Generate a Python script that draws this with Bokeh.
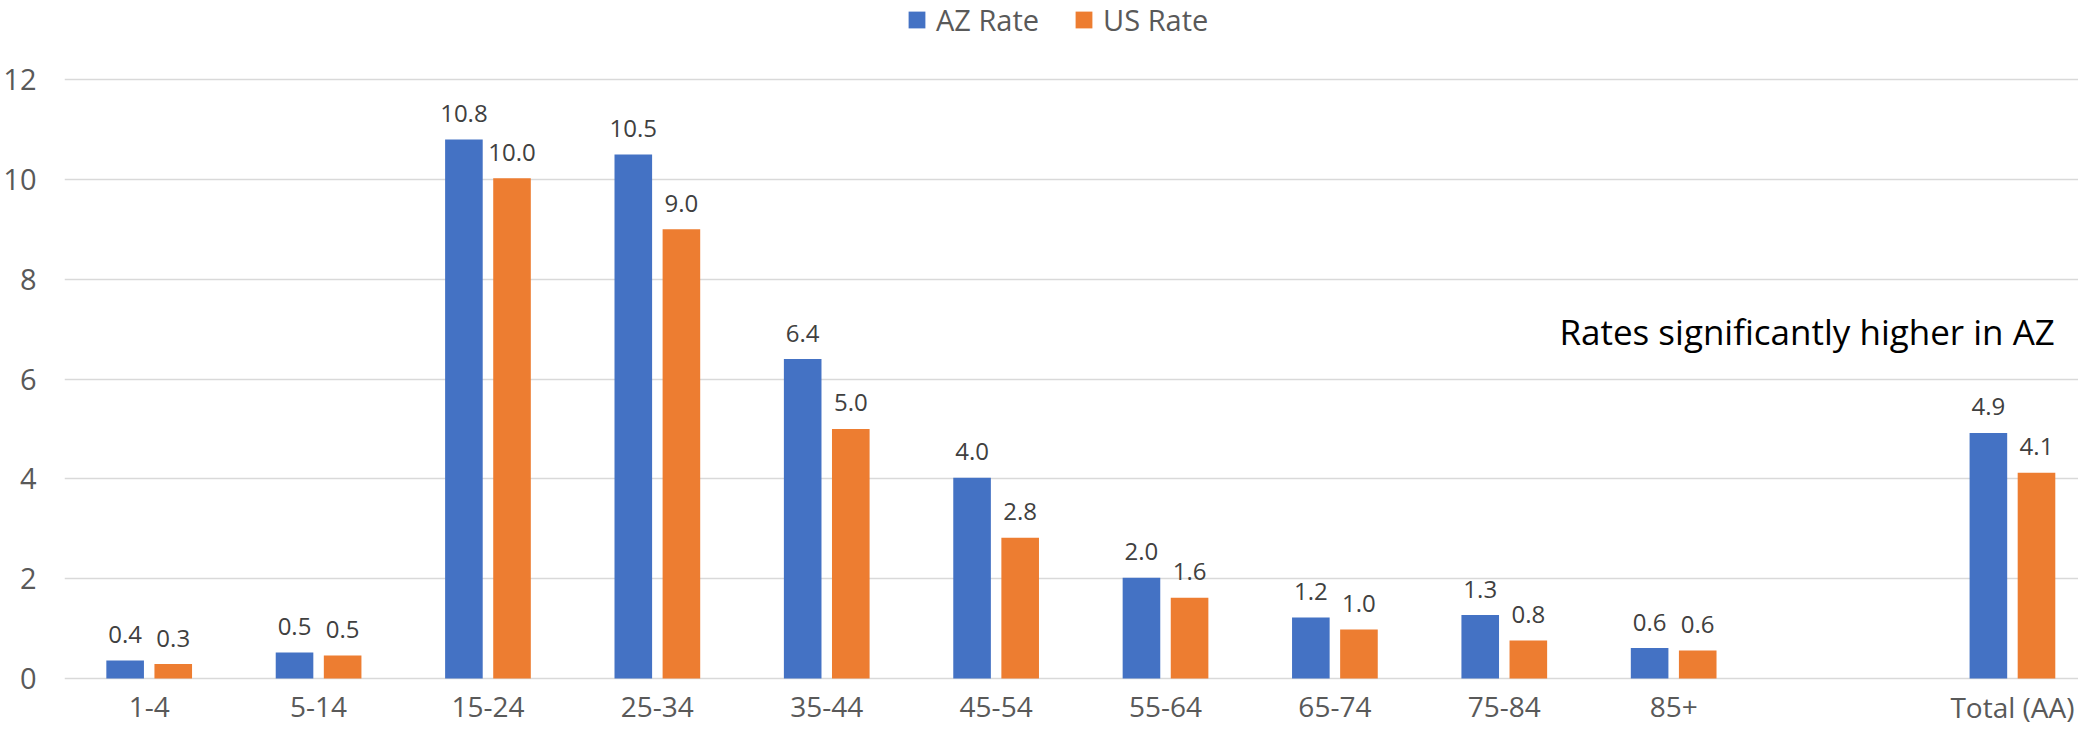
import numpy as np
from bokeh.plotting import figure
from bokeh.models import ColumnDataSource, FixedTicker, Legend, LegendItem, Label, Range1d
from bokeh.core.properties import value
from bokeh.embed import file_html
from bokeh.resources import INLINE

# ---- data ----
categories = ["1-4", "5-14", "15-24", "25-34", "35-44", "45-54", "55-64",
              "65-74", "75-84", "85+", "", "Total (AA)"]
az_rate = [0.36, 0.52, 10.8, 10.5, 6.4, 4.02, 2.02, 1.22, 1.27, 0.61, None, 4.92]
us_rate = [0.29, 0.46, 10.02, 9.0, 5.0, 2.82, 1.62, 0.98, 0.76, 0.56, None, 4.12]
y_ticks = [0, 2, 4, 6, 8, 10, 12]
series_names = ["AZ Rate", "US Rate"]
series_colors = ["#4472C4", "#ED7D31"]
note_text = "Rates significantly higher in AZ"

FONT = "Open Sans"
W, H = 2078, 727
LEFT = 56
top_px, zero_px = 79, 678            # pixel rows of the 12 and 0 grid lines
px_per_unit = (zero_px - top_px) / 12.0
y_min = -(H - zero_px) / px_per_unit
y_max = zero_px / px_per_unit

p = figure(width=W, height=H, output_backend="svg", toolbar_location=None,
           x_range=Range1d(-0.5, len(categories) - 0.61), y_range=Range1d(y_min, y_max),
           min_border_left=LEFT, min_border_right=0, min_border_top=0,
           min_border_bottom=0)
p.outline_line_color = None
p.background_fill_color = "white"
p.border_fill_color = "white"

p.xgrid.grid_line_color = None
p.ygrid.grid_line_color = "#d9d9d9"
p.ygrid.grid_line_width = 1.6
p.ygrid.ticker = FixedTicker(ticks=y_ticks)

# y axis
ya = p.yaxis[0]
ya.ticker = FixedTicker(ticks=y_ticks)
ya.axis_line_color = None
ya.major_tick_line_color = None
ya.minor_tick_line_color = None
ya.major_label_text_font = FONT
ya.major_label_text_font_size = "29px"
ya.major_label_text_color = "#595959"
ya.major_label_standoff = 22

# category labels drawn just under the zero line
p.xaxis.visible = False
tick_idx = [i for i, c in enumerate(categories) if c]
cat_src = ColumnDataSource(dict(x=tick_idx, y=[0] * len(tick_idx),
                                label=[categories[i] for i in tick_idx]))
p.text(x="x", y="y", text="label", source=cat_src, text_align="center",
       text_baseline="middle", y_offset=28,
       text_font=value(FONT), text_font_size="28px", text_color="#595959")

offset = 0.142
bar_w = 0.222
renderers = []
for k, (vals, name, col) in enumerate(zip([az_rate, us_rate], series_names, series_colors)):
    xs = [i + (-offset if k == 0 else offset) for i, v in enumerate(vals) if v is not None]
    ys = [v for v in vals if v is not None]
    labels = ["%.1f" % v for v in ys]
    src = ColumnDataSource(dict(x=xs, top=ys, label=labels))
    r = p.vbar(x="x", top="top", width=bar_w, bottom=0, source=src,
               fill_color=col, line_color=None)
    renderers.append((name, r))
    p.text(x="x", y="top", text="label", source=src, text_align="center",
           text_baseline="middle", y_offset=-26,
           text_font=value(FONT), text_font_size="24px", text_color="#404040")

legend = Legend(items=[LegendItem(label=n, renderers=[r]) for n, r in renderers],
                orientation="horizontal", location=(842, H - 39),
                glyph_width=21, glyph_height=21, label_standoff=9, spacing=34,
                padding=0, margin=0, border_line_color=None,
                background_fill_alpha=0,
                label_text_font=FONT, label_text_font_size="29px",
                label_text_color="#595959")
p.add_layout(legend, "center")

note = Label(x=len(categories) - 1 + 0.25, y=6.95, text=note_text,
             text_align="right", text_baseline="alphabetic",
             text_font=FONT, text_font_size="35px", text_color="#000000")
p.add_layout(note)

open("out.html", "w").write(file_html(p, INLINE))
